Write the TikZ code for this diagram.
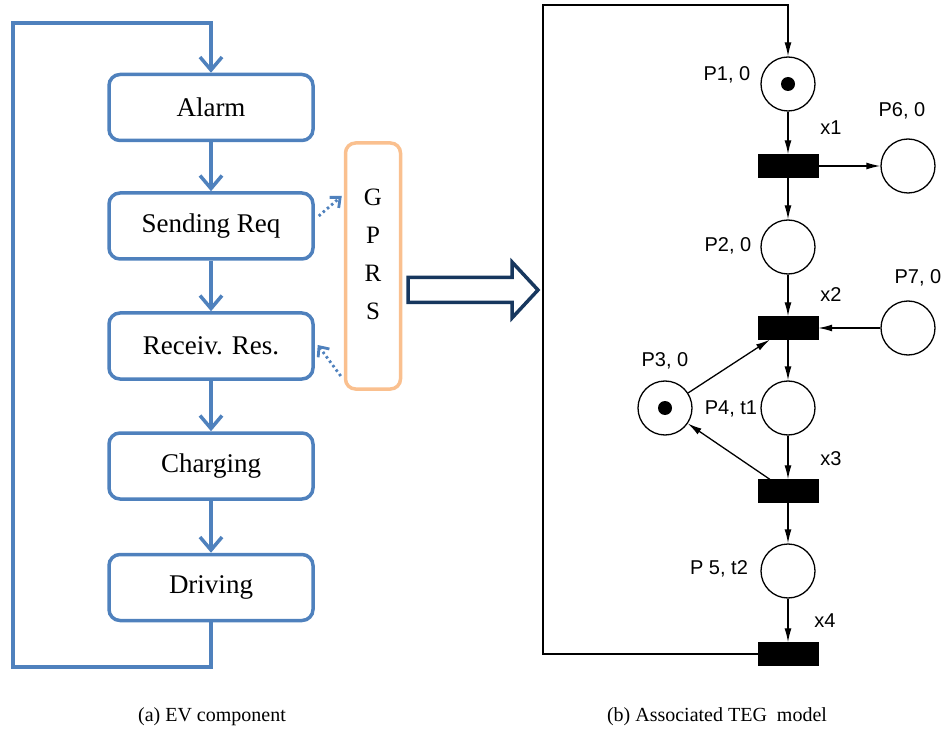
\documentclass[tikz,border=0pt]{standalone}
\usepackage{fontspec}
\setmainfont{Liberation Serif}
\newfontfamily\petrifont{Liberation Sans}
\usetikzlibrary{arrows.meta,calc}
\definecolor{evblue}{RGB}{79,129,189}
\definecolor{gprsorange}{RGB}{250,192,143}
\definecolor{navy}{RGB}{23,55,94}
\begin{document}
\begin{tikzpicture}[x=1pt,y=-1pt,
  evbox/.style={draw=evblue, line width=3.5pt, rounded corners=11pt, minimum width=204pt, minimum height=66pt, font=\fontsize{27}{32}\selectfont, inner sep=0pt},
  evline/.style={draw=evblue, line width=3.5pt},
  evarrow/.style={evline, -{Straight Barb[length=13pt,width=22pt,line width=3.5pt]}},
  dotarrow/.style={draw=evblue, line width=2.8pt, dash pattern=on 2.5pt off 3pt, -{Straight Barb[length=8pt,width=14pt,line width=2.8pt]}},
  place/.style={circle, draw, line width=1.3pt, minimum size=54pt, inner sep=0pt},
  trans/.style={rectangle, fill=black, draw=black, minimum width=60pt, minimum height=23pt, inner sep=0pt},
  plabel/.style={font=\petrifont\fontsize{20}{23}\selectfont, inner sep=0pt},
  parc/.style={line width=1.3pt, -{Latex[length=14pt,width=7pt]}},
  token/.style={circle, fill=black, minimum size=14pt, inner sep=0pt},
  caption/.style={font=\fontsize{20}{23}\selectfont, inner sep=0pt}
]
\useasboundingbox (0,0) rectangle (946,730);

% ---------- (a) EV component ----------
\node[evbox] (alarm) at (211,107.5) {Alarm};
\node[evbox] (send)  at (211,226)   {Sending Req};
\node[evbox] (recv)  at (211,346)   {Receiv. Res.};
\node[evbox] (charg) at (211,466)   {Charging};
\node[evbox] (drive) at (211,587.5) {Driving};

\draw[evarrow] (alarm) -- (send);
\draw[evarrow] (send) -- (recv);
\draw[evarrow] (recv) -- (charg);
\draw[evarrow] (charg) -- (drive);

\coordinate (lb1) at (211,667);
\coordinate (lb2) at (13,667);
\coordinate (lb3) at (13,23);
\coordinate (lb4) at (211,23);
\draw[evarrow, line join=miter] (drive.south) -- (lb1) -- (lb2) -- (lb3) -- (lb4) -- (alarm.north);

% GPRS
\node[draw=gprsorange, line width=3.5pt, rounded corners=10pt, minimum width=55pt, minimum height=246pt] (gprs) at (373,266) {};
\node[align=center, font=\fontsize{25}{38}\selectfont, inner sep=0pt] (gprst) at (373,254) {G\\P\\R\\S};

\draw[dotarrow] ($(send.east)+(4,-10)$) -- ($(gprs.west)+(-2,-70)$);
\draw[dotarrow] ($(gprs.west)+(-3,110)$) -- ($(recv.east)+(3,-1)$);

% big hollow arrow
\draw[navy, line width=3.5pt, line join=miter] (408,277.5) -- (512,277.5) -- (512,262) -- (538,290) -- (512,318) -- (512,302.5) -- (408,302.5) -- cycle;

\node[caption] (capa) at (212,717) {(a) EV component};

% ---------- (b) TEG model ----------
\node[place] (P1) at (788,84) {};
\node[token] (t1) at (P1) {};
\node[place] (P2) at (788,247) {};
\node[place] (P3) at (665,408) {};
\node[token] (t3) at (P3) {};
\node[place] (P4) at (788,408) {};
\node[place] (P5) at (788,571) {};
\node[place] (P6) at (908,166) {};
\node[place] (P7) at (908,328) {};

\node[trans] (x1) at (788,166) {};
\node[trans] (x2) at (788,328) {};
\node[trans] (x3) at (788,491) {};
\node[trans] (x4) at (788,654) {};

\node[plabel] (lP1) at (727,75)  {P1, 0};
\node[plabel] (lP2) at (728,246) {P2, 0};
\node[plabel] (lP3) at (665,361) {P3, 0};
\node[plabel] (lP4) at (731,409) {P4, t1};
\node[plabel] (lP5) at (719,569) {P 5, t2};
\node[plabel] (lP6) at (902,111) {P6, 0};
\node[plabel] (lP7) at (918,278) {P7, 0};
\node[plabel] (lx1) at (831,128) {x1};
\node[plabel] (lx2) at (831,295) {x2};
\node[plabel] (lx3) at (831,459) {x3};
\node[plabel] (lx4) at (825,621) {x4};

\draw[parc] (P1) -- (x1);
\draw[parc] (x1) -- (P2);
\draw[parc] (x1) -- (P6);
\draw[parc] (P2) -- (x2);
\draw[parc] (P7) -- (x2);
\draw[parc] (x2) -- (P4);
\draw[parc] (P4) -- (x3);
\draw[parc] (x3) -- (P5);
\draw[parc] (P5) -- (x4);
\draw[parc] (P3) -- ($(x2.south west)+(12,0)$);
\draw[parc] ($(x3.north west)+(12,0)$) -- (P3);

\coordinate (rb1) at (543,654);
\coordinate (rb2) at (543,5);
\coordinate (rb3) at (788,5);
\draw[parc] (x4.west) -- (rb1) -- (rb2) -- (rb3) -- (P1.north);

\node[caption] (capb) at (717,717) {(b) Associated TEG\ \ model};
\end{tikzpicture}
\end{document}
